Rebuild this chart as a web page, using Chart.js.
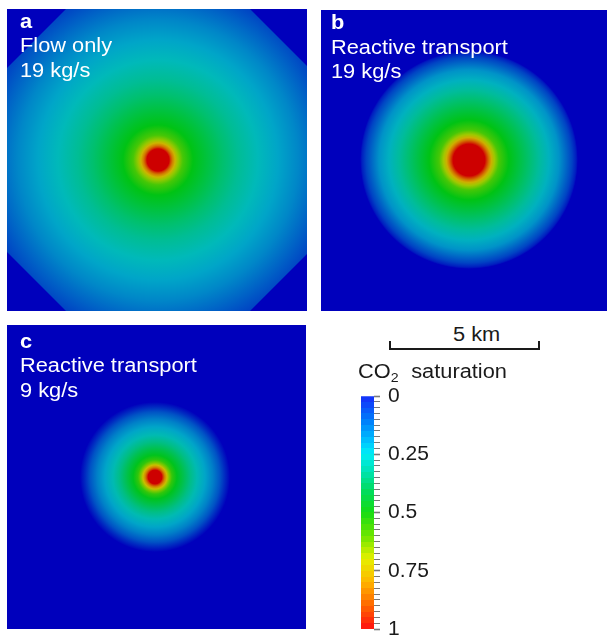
<!DOCTYPE html>
<html>
<head>
<meta charset="utf-8">
<script src="https://cdn.jsdelivr.net/npm/chart.js@4.4.1/dist/chart.umd.min.js"></script>
<style>
  body { margin: 0; background: #fff; }
  #page { position: relative; width: 610px; height: 635px; overflow: hidden;
          font-family: "Liberation Sans", Arial, sans-serif; }
  canvas { position: absolute; }
  .txt { position: absolute; font-size: 20px; line-height: 24.5px; white-space: nowrap;
         transform: scaleX(1.09); transform-origin: left top; }
  .white { color: #fff; }
  .dark { color: #1a1a1a; }
  sub { font-size: 13px; vertical-align: -4px; line-height: 0; margin-right: 6px; }
  #scalebar { position: absolute; left: 389px; top: 341px; width: 151px; height: 8.5px;
              box-sizing: border-box; border: 2.5px solid #1a1a1a; border-top: 0; }
</style>
</head>
<body>
<div id="page">
  <canvas id="panelA" width="300" height="302" style="left:7px; top:9px; background:rgb(0,0,188)"></canvas>
  <canvas id="panelB" width="286" height="301" style="left:321px; top:10px; background:rgb(0,0,188)"></canvas>
  <canvas id="panelC" width="299" height="304" style="left:7px; top:325px; background:rgb(0,0,188)"></canvas>
  <canvas id="colorbar" width="270" height="255" style="left:340px; top:380px"></canvas>

  <div class="txt white" style="left:20px; top:8.8px"><b>a</b><br>Flow only<br>19 kg/s</div>
  <div class="txt white" style="left:331px; top:10px"><b>b</b><br>Reactive transport<br>19 kg/s</div>
  <div class="txt white" style="left:20px; top:328.8px"><b>c</b><br>Reactive transport<br>9 kg/s</div>

  <div class="txt dark" style="left:453px; top:321.8px">5 km</div>
  <div id="scalebar"></div>
  <div class="txt dark" style="left:358px; top:358.8px">CO<sub>2</sub> saturation</div>
</div>

<script>
// CO2 saturation vs distance from the well (km)
const radiusA = [0, 0.37, 0.42, 0.48, 0.57, 0.67, 0.83, 1.17, 1.67, 2.17, 2.67, 3.33, 4.0, 4.67, 5.33, 6.0, 6.67, 7.17];
const satA    = [1, 1, 0.92, 0.84, 0.74, 0.65, 0.57, 0.5, 0.45, 0.4, 0.35, 0.3, 0.25, 0.2, 0.15, 0.1, 0.06, 0.03];

const radiusB = [0, 0.53, 0.6, 0.67, 0.75, 0.85, 1.0, 1.33, 1.67, 2.0, 2.33, 2.67, 3.0, 3.23, 3.43, 3.57, 3.63];
const satB    = [1, 1, 0.92, 0.84, 0.75, 0.66, 0.57, 0.5, 0.45, 0.4, 0.34, 0.28, 0.22, 0.16, 0.11, 0.05, 0];

const radiusC = [0, 0.23, 0.27, 0.33, 0.4, 0.47, 0.57, 0.73, 0.93, 1.17, 1.4, 1.67, 1.93, 2.17, 2.33, 2.43, 2.5];
const satC    = [1, 1, 0.92, 0.82, 0.72, 0.63, 0.55, 0.49, 0.44, 0.37, 0.31, 0.25, 0.19, 0.13, 0.07, 0.03, 0];

// octagonal model domain (km) that clips the flow-only plume
const domainX = [-2.1, 2.1, 6, 6, 2.1, -2.1, -6, -6, -2.1];
const domainY = [6, 6, 2.1, -2.1, -6, -6, -2.1, 2.1, 6];

// colour bar
const barTicks = [0, 0.25, 0.5, 0.75, 1];
const colorSteps = 40;

// jet-like colour map, bright for the bar and shaded for the maps
const cmapPos   = [0, 0.1, 0.2, 0.25, 0.3, 0.4, 0.5, 0.6, 0.7, 0.8, 0.9, 1];
const cmapBar   = [[20,45,250],[0,120,250],[0,200,255],[0,238,245],[0,230,200],[0,220,100],
                   [20,220,20],[110,230,0],[230,240,0],[255,180,0],[255,100,0],[255,15,15]];
const cmapPanel = [[0,0,188],[0,60,195],[0,135,200],[0,165,200],[0,185,185],[0,192,110],
                   [0,195,20],[100,200,0],[200,200,0],[210,150,0],[210,80,0],[205,0,0]];

const pxPerKm = 30;
const fontFamily = '"Liberation Sans", Arial, sans-serif';

function colorAt(map, v) {
  v = Math.min(1, Math.max(0, v));
  for (let i = 1; i < cmapPos.length; i++) {
    if (v <= cmapPos[i]) {
      const t = (v - cmapPos[i - 1]) / (cmapPos[i] - cmapPos[i - 1]);
      const c = map[i - 1].map((a, k) => Math.round(a + (map[i][k] - a) * t));
      return `rgb(${c})`;
    }
  }
  return `rgb(${map[map.length - 1]})`;
}

// pixel radius of the outermost profile point (0 until the scales are laid out)
function discRadius(chart, radius) {
  const s = chart.scales.x;
  if (!s) return 0;
  const r = s.getPixelForValue(radius[radius.length - 1]) - s.getPixelForValue(0);
  return isFinite(r) && r > 0 ? r : 0;
}

// radial gradient centred on the well, stops taken from the profile
function radialFill(chart, radius, sat) {
  const sx = chart.scales.x, sy = chart.scales.y;
  const R = discRadius(chart, radius);
  if (!sy || !R) return colorAt(cmapPanel, 0);
  const cx = sx.getPixelForValue(0), cy = sy.getPixelForValue(0);
  if (!isFinite(cx) || !isFinite(cy)) return colorAt(cmapPanel, 0);
  const rMax = radius[radius.length - 1];
  const g = chart.ctx.createRadialGradient(cx, cy, 0, cx, cy, R);
  radius.forEach((r, i) => g.addColorStop(r / rMax, colorAt(cmapPanel, sat[i])));
  return g;
}

function panelChart(id, centre, datasets) {
  const cv = document.getElementById(id);
  const w = cv.width, h = cv.height;
  new Chart(cv, {
    type: 'scatter',
    data: { datasets: datasets },
    options: {
      responsive: false,
      animation: false,
      events: [],
      layout: { padding: 0 },
      scales: {
        x: { display: false, min: -centre[0] / pxPerKm, max: (w - centre[0]) / pxPerKm },
        y: { display: false, min: -(h - centre[1]) / pxPerKm, max: centre[1] / pxPerKm }
      },
      plugins: { legend: { display: false }, tooltip: { enabled: false } }
    }
  });
}

function wellDisc(radius, sat) {
  return {
    data: [{ x: 0, y: 0 }],
    pointRadius: ctx => discRadius(ctx.chart, radius),
    pointBackgroundColor: ctx => radialFill(ctx.chart, radius, sat),
    pointBorderWidth: 0,
    pointHoverRadius: 0
  };
}

// a: plume fills the octagonal domain
panelChart('panelA', [151, 151], [{
  data: domainX.map((x, i) => ({ x: x, y: domainY[i] })),
  showLine: true,
  fill: 'shape',
  tension: 0,
  borderWidth: 0,
  pointRadius: 0,
  backgroundColor: ctx => radialFill(ctx.chart, radiusA, satA)
}]);

panelChart('panelB', [148, 150], [wellDisc(radiusB, satB)]);
panelChart('panelC', [148, 152], [wellDisc(radiusC, satC)]);

// colour bar
function bandFill(chart) {
  const area = chart.chartArea;
  if (!area || !isFinite(area.top) || area.bottom <= area.top) return colorAt(cmapBar, 0);
  const g = chart.ctx.createLinearGradient(0, area.top, 0, area.bottom);
  for (let i = 0; i < colorSteps; i++) {
    const c = colorAt(cmapBar, (i + 0.5) / colorSteps);
    g.addColorStop(i / colorSteps, c);
    g.addColorStop((i + 1) / colorSteps, c);
  }
  return g;
}

function isMajor(v) {
  return barTicks.some(t => Math.abs(t - v) < 1e-6);
}

new Chart(document.getElementById('colorbar'), {
  type: 'bar',
  data: {
    labels: [''],
    datasets: [{
      data: [[barTicks[0], barTicks[barTicks.length - 1]]],
      backgroundColor: ctx => bandFill(ctx.chart),
      borderWidth: 0,
      barPercentage: 1,
      categoryPercentage: 1
    }]
  },
  options: {
    responsive: false,
    animation: false,
    events: [],
    layout: { padding: { left: 21, top: 16, bottom: 6, right: 0 } },
    scales: {
      x: { display: false },
      y: {
        position: 'right',
        reverse: true,
        min: 0,
        max: 1,
        border: { display: false },
        grid: {
          drawOnChartArea: false,
          tickLength: 6,
          tickColor: '#7a7a7a',
          tickWidth: ctx => isMajor(ctx.tick.value) ? 1.6 : 1
        },
        ticks: {
          stepSize: 1 / colorSteps,
          autoSkip: false,
          padding: 8,
          color: '#1a1a1a',
          font: { family: fontFamily, size: 21 },
          callback: v => isMajor(v) ? String(Math.round(v * 100) / 100) : ''
        },
        afterFit: s => { s.width = 236; s.paddingTop = 0; s.paddingBottom = 0; }
      }
    },
    plugins: { legend: { display: false }, tooltip: { enabled: false } }
  }
});
</script>
</body>
</html>
